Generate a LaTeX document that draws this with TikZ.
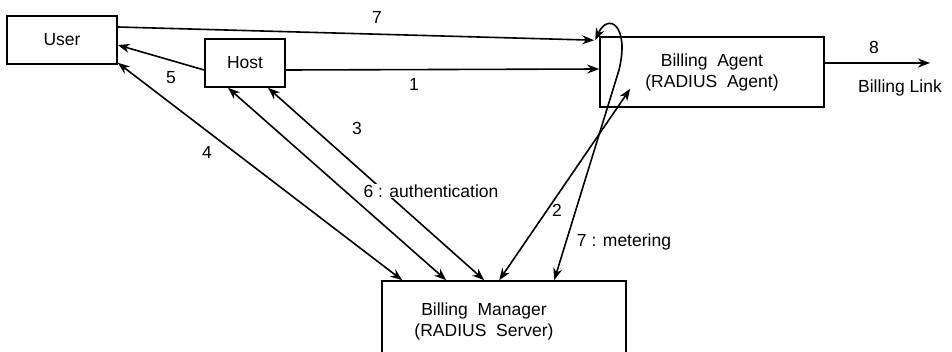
\documentclass[tikz,border=0pt]{standalone}
\usepackage{fontspec}
\setmainfont{Liberation Sans}
\usetikzlibrary{arrows.meta}
\begin{document}
\begin{tikzpicture}[x=1pt,y=-1pt,
  every node/.style={font=\fontsize{17.5}{21}\selectfont},
  box/.style={draw,line width=1.6pt,inner sep=0pt,align=center},
  lab/.style={inner sep=1pt},
  link/.style={line width=1.6pt,-{Stealth[length=12pt,width=9pt]}},
  both/.style={line width=1.6pt,{Stealth[length=12pt,width=9pt]}-{Stealth[length=12pt,width=9pt]}}]
  \useasboundingbox (0,0) rectangle (952,351);
  \node[box,minimum width=110pt,minimum height=48pt] (user) at (62,40) {User};
  \node[box,minimum width=80pt,minimum height=48pt] (host) at (245,63) {Host};
  \node[box,minimum width=224pt,minimum height=70pt] (agent) at (712,72) {Billing\ \ Agent\\(RADIUS\ \ Agent)};
  \node[box,minimum width=244pt,minimum height=80pt] (manager) at (504,321) {};
  \node[lab,align=center] (mgrtext) at (484,321) {Billing\ \ Manager\\(RADIUS\ \ Server)};
  \coordinate (linkend) at (930,63);
  % flows between the parties
  \draw[link] ([yshift=13pt]user.east) -- ([xshift=-5pt,yshift=-4pt]agent.north west);
  \draw[link] ([yshift=-7pt]host.east) -- ([yshift=3pt]agent.west);
  \draw[link] ([yshift=-7pt]host.west) -- ([yshift=-5pt]user.east);
  \draw[both] ([yshift=2pt]user.south east) -- ([xshift=21pt]manager.north west);
  \draw[both] ([xshift=-17pt]host.south) -- ([xshift=65pt]manager.north west);
  \draw[both] ([xshift=23pt]host.south) -- ([xshift=103pt]manager.north west);
  \draw[both] ([xshift=118pt]manager.north west) -- ([xshift=31pt,yshift=19pt]agent.south west);
  \draw[both] ([xshift=173pt]manager.north west) -- (619,70)
    .. controls (630,25) and (608,12) .. ([xshift=-4pt,yshift=-4pt]agent.north west);
  \draw[link] ([yshift=9pt]agent.east) -- (linkend);
  % labels
  \node[lab] (l7) at (377,17) {7};
  \node[lab] (l1) at (414,84) {1};
  \node[lab] (l5) at (171,78) {5};
  \node[lab] (l4) at (207,152) {4};
  \node[lab] (l3) at (357,128) {3};
  \node[lab,fill=white] (l6) at (431,191) {6 : authentication};
  \node[lab] (l2) at (557,210) {2};
  \node[lab,fill=white] (lmeter) at (624,242) {7 : metering};
  \node[lab] (l8) at (874,47) {8};
  \node[lab] (llink) at (900,88) {Billing\ Link};
\end{tikzpicture}
\end{document}
